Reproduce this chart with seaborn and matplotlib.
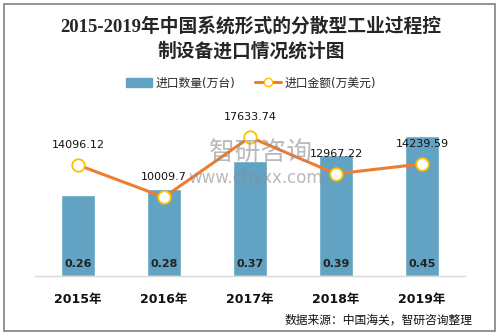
import matplotlib
matplotlib.use("Agg")
import matplotlib.pyplot as plt
from matplotlib.patches import Rectangle
from matplotlib.lines import Line2D
from matplotlib.patches import Patch
import seaborn as sns
import numpy as np
import pandas as pd

years = ["2015年", "2016年", "2017年", "2018年", "2019年"]
quantity = [0.26, 0.28, 0.37, 0.39, 0.45]          # 进口数量(万台)
amount = [14096.12, 10009.7, 17633.74, 12967.22, 14239.59]  # 进口金额(万美元)

title = "2015-2019年中国系统形式的分散型工业过程控\n制设备进口情况统计图"
source = "数据来源：中国海关，智研咨询整理"

sns.set_theme(style="white")
plt.rcParams['font.family'] = ['DejaVu Sans', 'Noto Sans CJK SC']

BAR = "#62A3C3"
LINE = "#ED7D31"
EDGE = "#FFC000"

W, H = 499, 334
fig = plt.figure(figsize=(W / 100, H / 100), dpi=100)

base_y = 276
top_y = 100
ax = fig.add_axes([35 / W, (H - base_y) / H, 430 / W, (base_y - top_y) / H])

# watermark (behind data)
fig.text(261 / W, 1 - 153 / H, "智研咨询", fontsize=18.5, color="#8c8c8c", alpha=0.6,
         ha="center", va="center", family=['Noto Sans CJK SC'], zorder=0)
fig.text(256 / W, 1 - 178 / H, "www.chyxx.com", fontsize=12, color="#8c8c8c", alpha=0.6,
         ha="center", va="center", zorder=0)

df = pd.DataFrame({"year": years, "q": quantity, "a": amount})
sns.barplot(data=df, x="year", y="q", color=BAR, saturation=1, width=0.4, ax=ax)
ax.set_xlim(-0.5, 4.5)
ax.set_ylim(0, (base_y - top_y) / 311.0)
ax.patch.set_alpha(0)

for i, v in enumerate(quantity):
    ax.annotate(f"{v:.2f}", (i, 0), xytext=(0, 8.5), textcoords="offset points",
                ha="center", va="center", fontsize=8, fontweight="bold", color="#222222")

ax2 = ax.twinx()
df["pos"] = np.arange(len(years))
sns.lineplot(data=df, x="pos", y="a", ax=ax2, color=LINE, lw=2.2,
             marker="o", markersize=9, markerfacecolor="white",
             markeredgecolor=EDGE, markeredgewidth=1.3)
ax2.set_ylim(0, (base_y - top_y) * 127.0)
ax2.set_xlim(-0.5, 4.5)
for i, v in enumerate(amount):
    ax2.annotate(str(v), (i, v), xytext=(0, 14.5), textcoords="offset points",
                 ha="center", va="center", fontsize=8, color="#111111")

for a in (ax, ax2):
    for s in ["top", "left", "right"]:
        a.spines[s].set_visible(False)
    a.set_yticks([])
    a.set_ylabel("")
    a.set_xlabel("")
ax2.spines["bottom"].set_visible(False)
ax.spines["bottom"].set_color("#D9D9D9")
ax.spines["bottom"].set_linewidth(1.0)
ax.set_xticks(range(len(years)))
ax.set_xticklabels(years, fontsize=9, fontweight="bold", color="#111111",
                   family=['DejaVu Sans', 'Noto Sans CJK SC'])
ax.tick_params(axis="x", length=0, pad=12)
ax2.tick_params(axis="x", length=0, labelbottom=False)

fig.text(251 / W, 1 - 26 / H, title.split("\n")[0], fontsize=13.5, fontweight="bold",
         ha="center", va="center", family=['Liberation Serif', 'Noto Sans CJK SC'])
fig.text(251 / W, 1 - 51 / H, title.split("\n")[1], fontsize=13.5, fontweight="bold",
         ha="center", va="center", family=['Liberation Serif', 'Noto Sans CJK SC'])

handles = [Patch(color=BAR),
           Line2D([], [], color=LINE, lw=2.2, marker="o", markersize=6,
                  markerfacecolor="white", markeredgecolor=EDGE)]
fig.legend(handles, ["进口数量(万台)", "进口金额(万美元)"], loc="center",
           bbox_to_anchor=(251 / W, 1 - 83 / H), ncol=2, frameon=False,
           handlelength=2.2, columnspacing=1.6, handletextpad=0.3,
           prop={'family': ['DejaVu Sans', 'Noto Sans CJK SC'], 'size': 8.5})

fig.text(473 / W, 1 - 320 / H, source, fontsize=8.5, ha="right", va="center",
         family=['Noto Sans CJK SC', 'DejaVu Sans'], color="#111111")

fig.add_artist(Rectangle((3.5 / W, 3.5 / H), 491 / W, 327 / H, transform=fig.transFigure,
                         fill=False, edgecolor="#808080", lw=1.2))

fig.savefig("out.png", dpi=100)
